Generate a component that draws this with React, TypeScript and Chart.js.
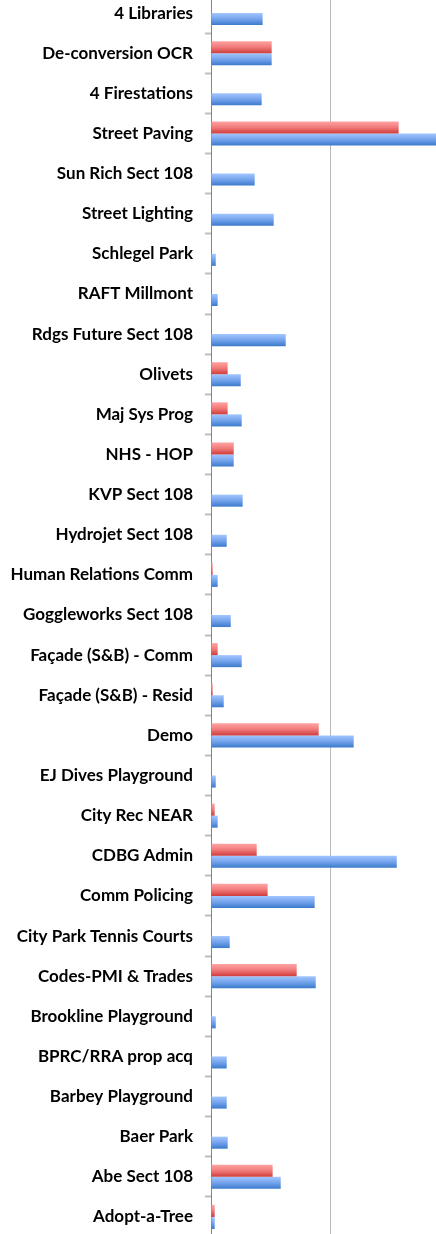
import React, { useEffect, useRef } from 'react';
import { Chart, registerables } from 'chart.js';

Chart.register(...registerables);

const categories = [
  '4 Libraries',
  'De-conversion OCR',
  '4 Firestations',
  'Street Paving',
  'Sun Rich Sect 108',
  'Street Lighting',
  'Schlegel Park',
  'RAFT Millmont',
  'Rdgs Future Sect 108',
  'Olivets',
  'Maj Sys Prog',
  'NHS - HOP',
  'KVP Sect 108',
  'Hydrojet Sect 108',
  'Human Relations Comm',
  'Goggleworks Sect 108',
  'Façade (S&B) - Comm',
  'Façade (S&B) - Resid',
  'Demo',
  'EJ Dives Playground',
  'City Rec NEAR',
  'CDBG Admin',
  'Comm Policing',
  'City Park Tennis Courts',
  'Codes-PMI & Trades',
  'Brookline Playground',
  'BPRC/RRA prop acq',
  'Barbey Playground',
  'Baer Park',
  'Abe Sect 108',
  'Adopt-a-Tree',
];

const redValues = [
  null, 510000, null, 1577000, null, null, null, null, null, 140000,
  140000, 191000, null, null, 14000, null, 56000, 14000, 905000, null,
  31000, 384000, 476000, null, 720000, null, null, null, null, 518000,
  31000,
];

const blueValues = [
  434000, 510000, 426000, 1950000, 367000, 527000, 40000, 56000, 628000, 250000,
  258000, 191000, 266000, 132000, 56000, 166000, 258000, 107000, 1199000, 40000,
  56000, 1561000, 871000, 157000, 880000, 40000, 132000, 132000, 140000, 586000,
  31000,
];

const xMax = 2000000;
const xStep = 1000000;

const redStops = ['#ffa3a3', '#f17a7a', '#cf3c3c'];
const blueStops = ['#a2c6ff', '#74a3ec', '#3b7acb'];

function makeFill(stops: string[], isUpper: boolean) {
  return (ctx: any) => {
    const chart = ctx.chart;
    const ys = chart.scales && chart.scales.y;
    if (!ys || ctx.type !== 'data') return stops[1];
    const center = ys.getPixelForValue(ctx.dataIndex);
    const step = ys.height / categories.length;
    if (!isFinite(center) || !isFinite(step) || step <= 0) return stops[1];
    const h = step * 0.3;
    const top = isUpper ? center - h : center;
    const bottom = isUpper ? center : center + h;
    const g = chart.ctx.createLinearGradient(0, top, 0, bottom);
    g.addColorStop(0, stops[0]);
    g.addColorStop(0.5, stops[1]);
    g.addColorStop(1, stops[2]);
    return g;
  };
}

export default function App() {
  const ref = useRef<HTMLCanvasElement>(null);

  useEffect(() => {
    if (!ref.current) return;
    const chart = new Chart(ref.current, {
      type: 'bar',
      data: {
        labels: categories,
        datasets: [
          {
            label: 'Series 1',
            data: redValues,
            backgroundColor: makeFill(redStops, true),
            borderWidth: 0,
            barPercentage: 1,
            categoryPercentage: 0.6,
          },
          {
            label: 'Series 2',
            data: blueValues,
            backgroundColor: makeFill(blueStops, false),
            borderWidth: 0,
            barPercentage: 1,
            categoryPercentage: 0.6,
          },
        ],
      },
      options: {
        indexAxis: 'y',
        responsive: false,
        animation: false,
        devicePixelRatio: 1,
        layout: { padding: 0 },
        plugins: { legend: { display: false }, tooltip: { enabled: false } },
        scales: {
          x: {
            min: 0,
            max: xMax,
            ticks: { display: false, stepSize: xStep },
            grid: {
              drawTicks: false,
              color: (c: any) => (c.tick && c.tick.value === 0 ? 'rgba(0,0,0,0)' : '#b8b8b8'),
              lineWidth: 1,
            },
            border: { display: false },
            afterFit: (s: any) => {
              s.height = 0;
              s.paddingLeft = 0;
              s.paddingRight = 0;
            },
          },
          y: {
            z: 1,
            offset: true,
            ticks: {
              color: '#000000',
              padding: 12,
              font: { family: 'Lato', weight: 'bold', size: 17 },
            },
            grid: {
              offset: true,
              drawOnChartArea: false,
              drawTicks: true,
              tickLength: 6,
              tickColor: '#bdbdbd',
              tickWidth: 2,
            },
            border: { display: true, color: '#858585', width: 1 },
            afterFit: (s: any) => {
              s.width = 211;
              s.paddingTop = 0;
              s.paddingBottom = 0;
            },
          },
        },
      },
    });
    return () => chart.destroy();
  }, []);

  return (
    <div
      style={{
        position: 'fixed',
        left: 0,
        top: 0,
        width: 436,
        height: 1234,
        overflow: 'hidden',
        background: '#ffffff',
      }}
    >
      <canvas
        ref={ref}
        width={449}
        height={1244}
        style={{ position: 'absolute', left: 0, top: -7, width: 449, height: 1244 }}
      />
    </div>
  );
}
